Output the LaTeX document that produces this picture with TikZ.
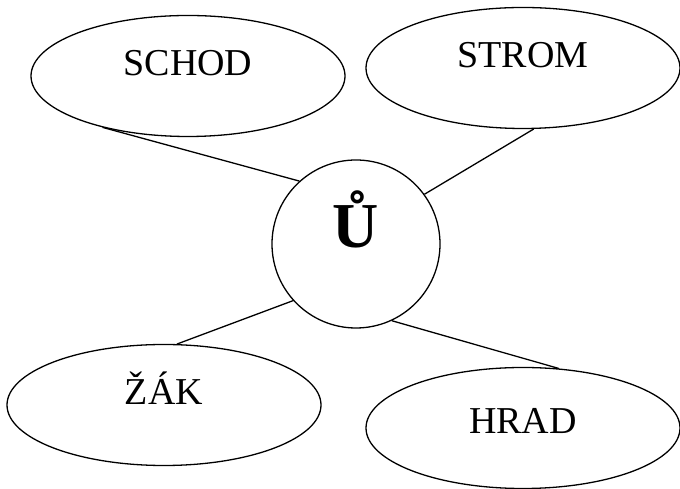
\documentclass[tikz,border=0pt]{standalone}
\usepackage{fontspec}
\setmainfont{Liberation Serif}
\usetikzlibrary{shapes.geometric}

\tikzset{
  word/.style={draw, ellipse, line width=1.3pt, minimum width=314pt, minimum height=121pt,
    inner sep=0pt, text height=10pt, text depth=10pt, font=\fontsize{38}{40}\selectfont},
  hub/.style={draw, circle, line width=1.3pt, minimum size=168pt, inner sep=0pt,
    text height=20pt, text depth=12pt, font=\fontsize{64}{66}\selectfont\bfseries},
  spoke/.style={line width=1.3pt}
}

\begin{document}
\begin{tikzpicture}[x=1pt, y=1pt]
    \useasboundingbox (0,0) rectangle (680,489);

    %% the letter in the middle
    \node[hub] (u) at (356,245) {Ů};

    %% the four words
    \node[word] (schod) at (188,413) {SCHOD};
    \node[word] (strom) at (523,421) {STROM};
    \node[word] (zak) at (164,84) {ŽÁK};
    \node[word, text height=16pt, text depth=4pt] (hrad) at (523,61) {HRAD};

    %% spokes
    \foreach \w/\wa/\ua in {schod/211/132, strom/280/36, zak/78/222, hrad/59/295}{
      \draw[spoke] (\w.\wa) -- (u.\ua);}

\end{tikzpicture}
\end{document}
